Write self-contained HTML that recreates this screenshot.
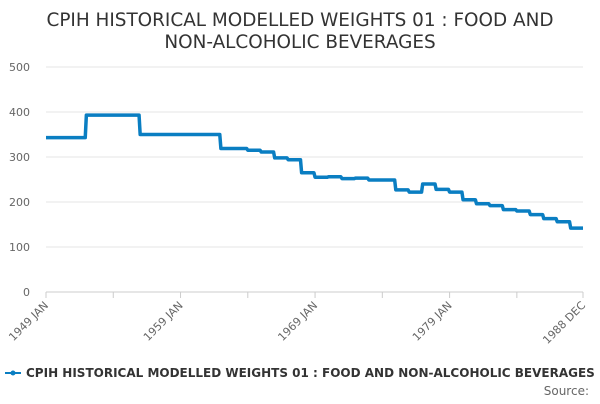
<!DOCTYPE html>
<html><head><meta charset="utf-8"><style>
body{margin:0;background:#fff;font-family:"DejaVu Sans","Liberation Sans",sans-serif;}
svg text{font-family:"DejaVu Sans","Liberation Sans",sans-serif;}
</style></head><body>
<svg id="chart" width="600" height="400" xmlns="http://www.w3.org/2000/svg">
<text x="300" y="26" text-anchor="middle" font-size="18.4" fill="#333">CPIH HISTORICAL MODELLED WEIGHTS 01 : FOOD AND</text>
<text x="300" y="48" text-anchor="middle" font-size="18.4" fill="#333">NON-ALCOHOLIC BEVERAGES</text>
<g id="grid"></g><g id="xaxis"></g><g id="series"></g>
<g>
<line x1="5" y1="373" x2="21" y2="373" stroke="#0a7ec2" stroke-width="2"/>
<circle cx="13" cy="373" r="2.5" fill="#0a7ec2"/>
<text x="26" y="377" font-size="12" font-weight="bold" fill="#333">CPIH HISTORICAL MODELLED WEIGHTS 01 : FOOD AND NON-ALCOHOLIC BEVERAGES</text>
</g>
<text x="589" y="395" text-anchor="end" font-size="12" fill="#666">Source:</text>
</svg>
<script>
const years = [];
for (let y = 1949; y <= 1988; y++) years.push(y);
const yearValues = [343,343,343,393,393,393,393,350,350,350,350,350,350,319,319,315,311,298,294,265,255,256,252,253,249,249,227,222,240,228,222,205,196,192,183,180,172,163,156,142];
const yTicks = [0,100,200,300,400,500];
const xTickLabels = ["1949 JAN","1959 JAN","1969 JAN","1979 JAN","1988 DEC"];
const xTickIndex = [0,120,240,360,479];

const NS="http://www.w3.org/2000/svg";
const x0=46,x1=583,yb=292,yt=67;
const nPts=years.length*12;
const xs=i=>x0+(x1-x0)*i/(nPts-1);
const ys=v=>yb-(yb-yt)*v/500;
function mk(tag,attrs,parent){const e=document.createElementNS(NS,tag);for(const k in attrs)e.setAttribute(k,attrs[k]);parent.appendChild(e);return e;}
const grid=document.getElementById('grid');
yTicks.forEach(t=>{
  const l=mk('line',{x1:x0,x2:x1,y1:ys(t),y2:ys(t),stroke:t===0?'#ccc':'#e6e6e6','stroke-width':1},grid);
  
  
  const tx=mk('text',{x:30,y:ys(t)+4,'text-anchor':'end','font-size':11,fill:'#666'},grid);
  tx.textContent=t;
  
  
});
const xa=document.getElementById('xaxis');
for(let m=0;m<nPts;m+=60){
  const t=mk('line',{x1:xs(m),x2:xs(m),y1:yb,y2:yb+6,stroke:'#ccc'},xa);
  
  
}
mk('line',{x1:x1,x2:x1,y1:yb,y2:yb+6,stroke:'#ccc'},xa);
xTickLabels.forEach((lab,i)=>{
  const x=xs(xTickIndex[i]);
  const tx=mk('text',{x:x+3,y:yb+14,'text-anchor':'end','font-size':11,fill:'#666',transform:`rotate(-45 ${x+3} ${yb+14})`},xa);
  tx.textContent=lab;
  
  
});
const ser=document.getElementById('series');
let pts=[];
yearValues.forEach((v,yi)=>{for(let m=0;m<12;m++){const i=yi*12+m;pts.push(xs(i).toFixed(2)+','+ys(v).toFixed(2));}});
const pl=mk('polyline',{points:pts.join(' '),fill:'none',stroke:'#0a7ec2','stroke-width':3.5,'stroke-linejoin':'round'},ser);


</script>
</body></html>
